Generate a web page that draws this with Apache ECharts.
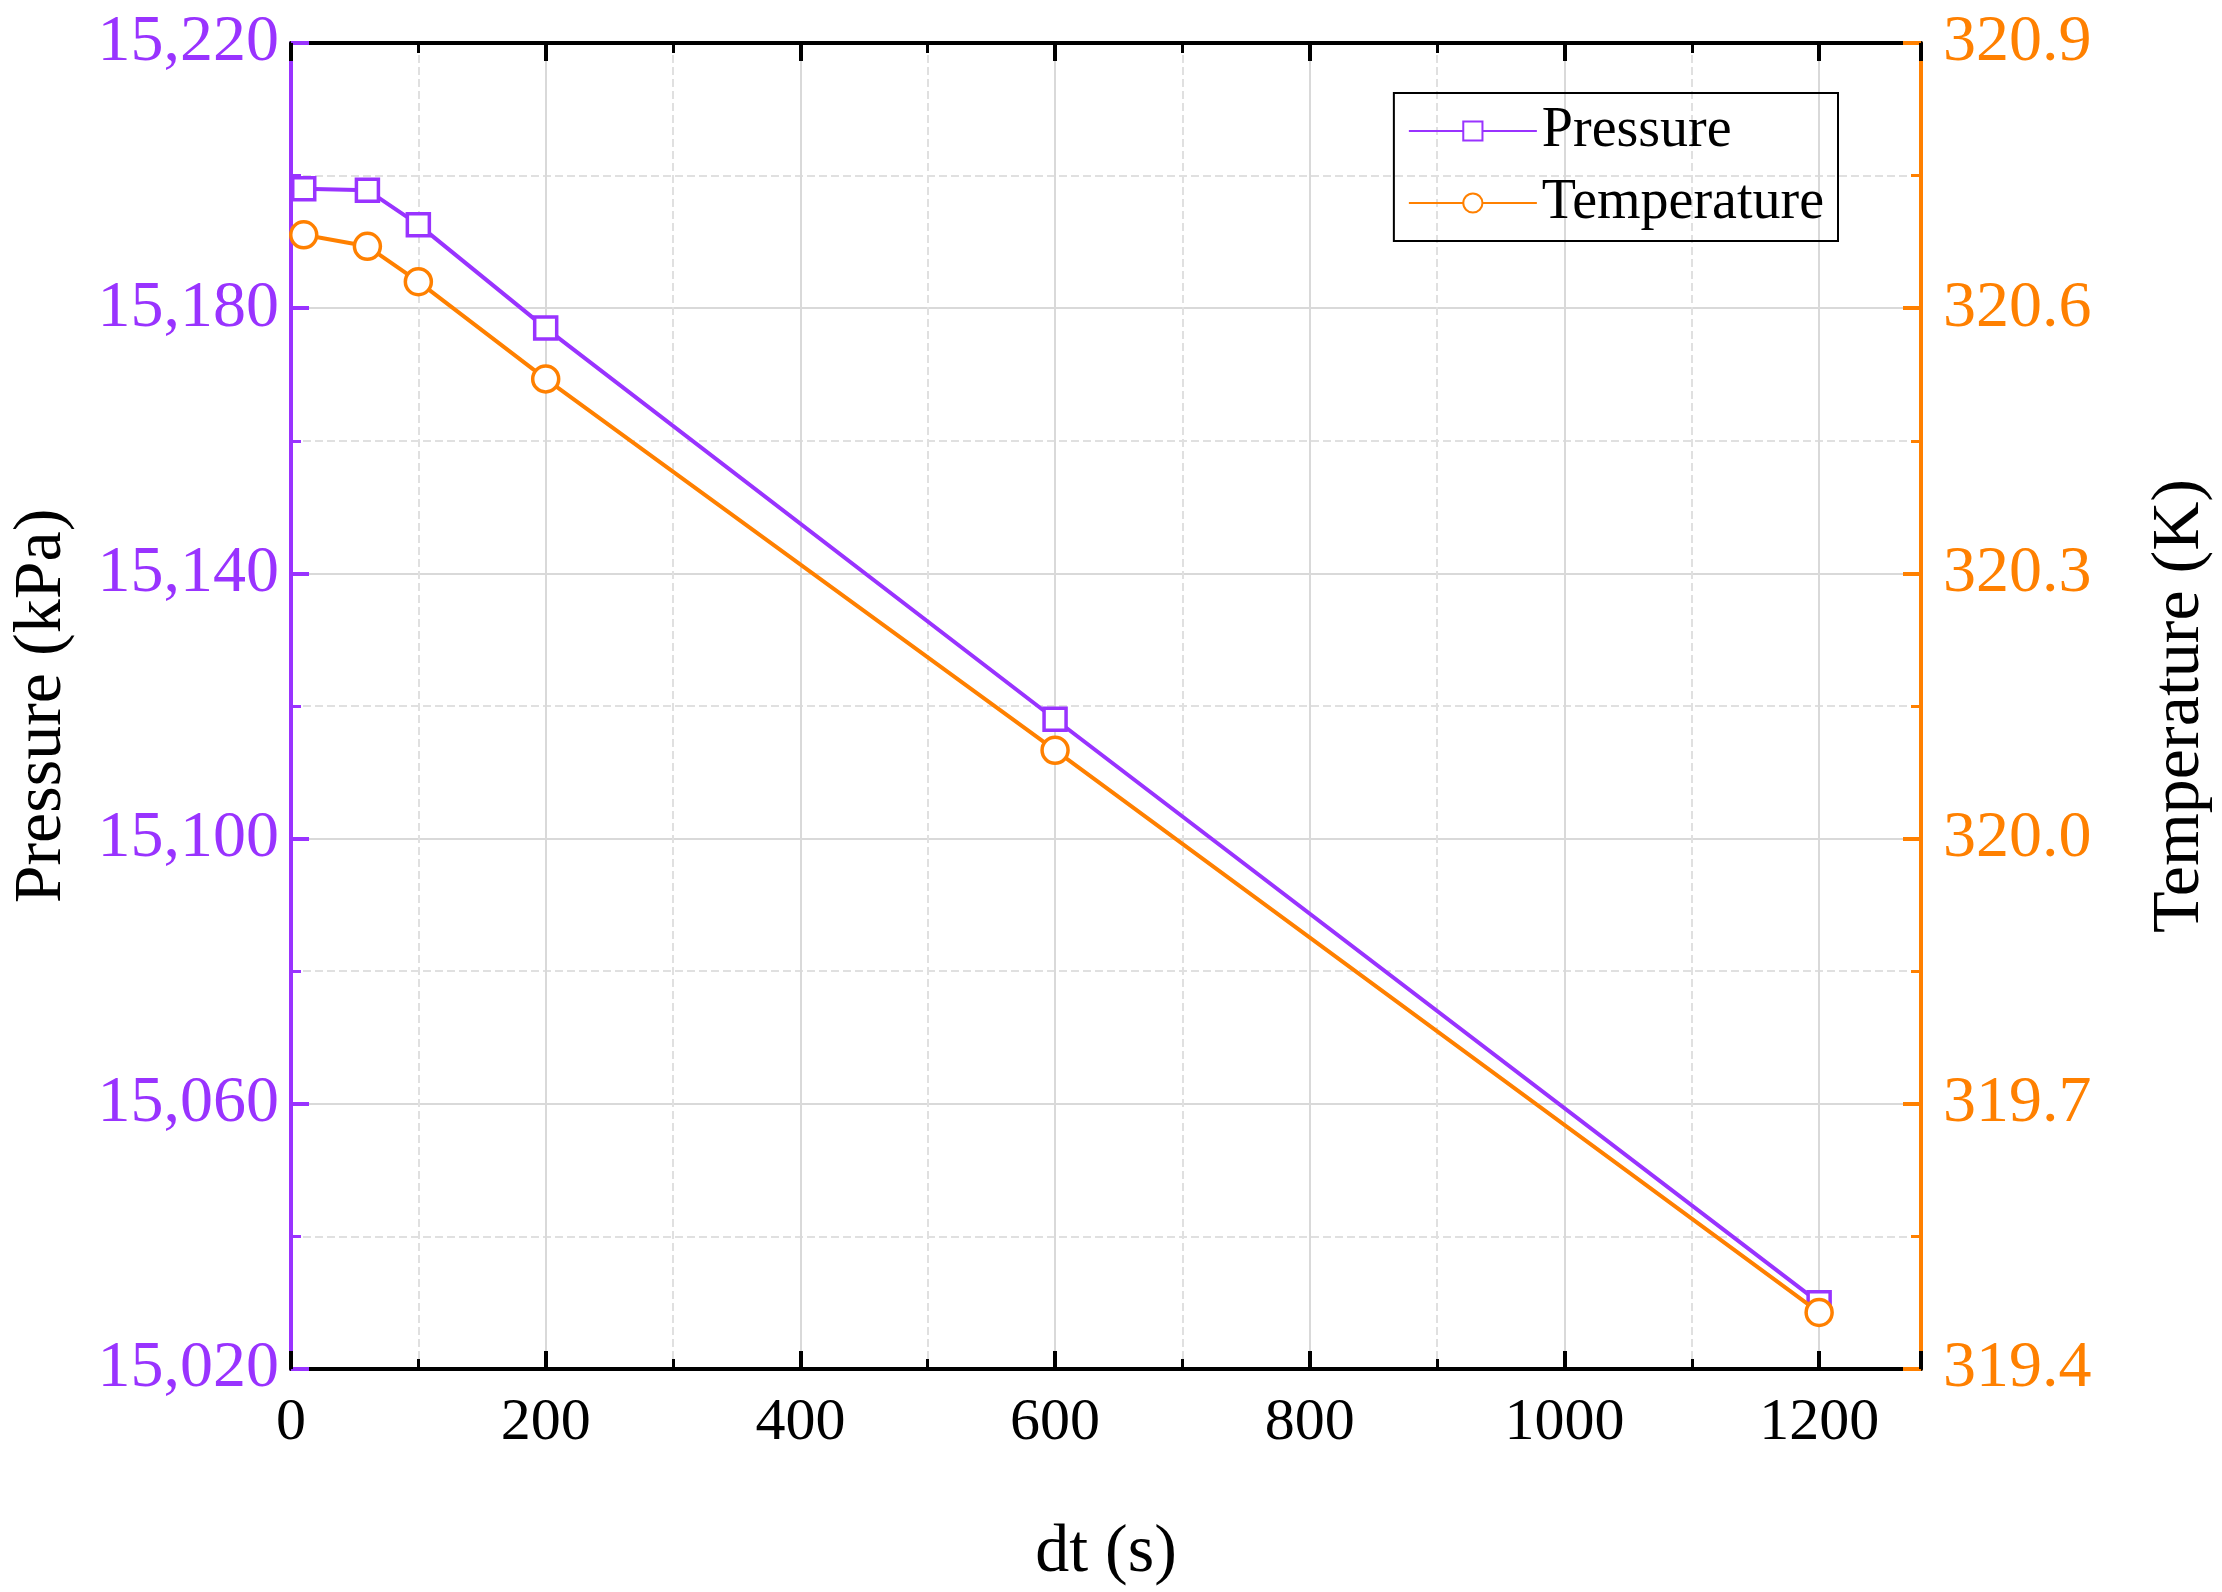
<!DOCTYPE html>
<html>
<head>
<meta charset="utf-8">
<script src="https://cdn.jsdelivr.net/npm/echarts@6/dist/echarts.min.js"></script>
<style>html,body{margin:0;background:#fff}#chart{width:2222px;height:1592px}</style>
</head>
<body>
<div id="chart"></div>
<script>
// values
const dt = [10, 60, 100, 200, 600, 1200];
const pressure = [15198.0, 15197.8, 15192.6, 15177.0, 15118.0, 15030.0];
const temperature = [320.683, 320.67, 320.63, 320.52, 320.10, 319.464];

const PURPLE = "#9933ff";
const ORANGE = "#ff8000";
const FONT = "Liberation Serif";

const chart = echarts.init(document.getElementById("chart"));

const xCommon = {
  type: "value",
  min: 0,
  max: 1280,
  interval: 200,
  axisLine: { onZero: false, lineStyle: { color: "#000", width: 4 } },
  axisTick: { inside: true, length: 18, lineStyle: { color: "#000", width: 4 } },
  minorTick: { show: true, splitNumber: 2, length: 10, lineStyle: { color: "#000", width: 3 } },
};

chart.setOption({
  animation: false,
  textStyle: { fontFamily: FONT },
  grid: { left: 282, right: 285, top: 43, bottom: 218 },
  legend: {
    orient: "vertical",
    right: 384,
    top: 93,
    padding: [10, 14, 10, 14],
    borderColor: "#000",
    borderWidth: 2,
    itemWidth: 128,
    itemHeight: 24,
    itemGap: 16,
    textStyle: { fontFamily: FONT, fontSize: 56, color: "#000" },
    data: ["Pressure", "Temperature"],
  },
  xAxis: [
    Object.assign({}, xCommon, {
      name: "dt (s)",
      nameLocation: "middle",
      nameGap: 150,
      nameTextStyle: { fontFamily: FONT, fontSize: 68, color: "#000" },
      axisLabel: { fontFamily: FONT, fontSize: 60, color: "#000", margin: 24, formatter: v => String(v) },
      splitLine: { show: true, lineStyle: { color: "#d9d9d9", width: 2 } },
      minorSplitLine: { show: true, lineStyle: { color: "#e0e0e0", width: 2, type: "dashed" } },
    }),
    Object.assign({}, xCommon, {
      position: "top",
      axisLabel: { show: false },
      splitLine: { show: false },
    }),
  ],
  yAxis: [
    {
      type: "value",
      min: 15020,
      max: 15220,
      interval: 40,
      name: "Pressure (kPa)",
      nameLocation: "middle",
      nameGap: 215,
      nameTextStyle: { fontFamily: FONT, fontSize: 68, color: "#000" },
      axisLine: { show: true, onZero: false, lineStyle: { color: PURPLE, width: 4 } },
      axisTick: { show: true, inside: true, length: 18, lineStyle: { color: PURPLE, width: 4 } },
      minorTick: { show: true, splitNumber: 2, length: 10, lineStyle: { color: PURPLE, width: 3 } },
      axisLabel: {
        fontFamily: FONT, fontSize: 66, color: PURPLE, margin: 12,
        formatter: v => v.toLocaleString("en-US"),
      },
      splitLine: { show: true, lineStyle: { color: "#d9d9d9", width: 2 } },
      minorSplitLine: { show: true, lineStyle: { color: "#e0e0e0", width: 2, type: "dashed" } },
    },
    {
      type: "value",
      min: 319.4,
      max: 320.9,
      interval: 0.3,
      position: "right",
      name: "Temperature (K)",
      nameLocation: "middle",
      nameGap: 225,
      nameRotate: 90,
      nameTextStyle: { fontFamily: FONT, fontSize: 68, color: "#000" },
      axisLine: { show: true, onZero: false, lineStyle: { color: ORANGE, width: 4 } },
      axisTick: { show: true, inside: true, length: 18, lineStyle: { color: ORANGE, width: 4 } },
      minorTick: { show: true, splitNumber: 2, length: 10, lineStyle: { color: ORANGE, width: 3 } },
      axisLabel: {
        fontFamily: FONT, fontSize: 66, color: ORANGE, margin: 22,
        formatter: v => v.toFixed(1),
      },
      splitLine: { show: false },
    },
  ],
  series: [
    {
      name: "Pressure",
      type: "line",
      yAxisIndex: 0,
      data: dt.map((x, i) => [x, pressure[i]]),
      symbol: "rect",
      symbolSize: 22,
      itemStyle: { color: "#fff", borderColor: PURPLE, borderWidth: 3.5 },
      lineStyle: { color: PURPLE, width: 4 },
      z: 3,
    },
    {
      name: "Temperature",
      type: "line",
      yAxisIndex: 1,
      data: dt.map((x, i) => [x, temperature[i]]),
      symbol: "circle",
      symbolSize: 26,
      itemStyle: { color: "#fff", borderColor: ORANGE, borderWidth: 3.5 },
      lineStyle: { color: ORANGE, width: 4 },
      z: 4,
    },
  ],
});
</script>
</body>
</html>
